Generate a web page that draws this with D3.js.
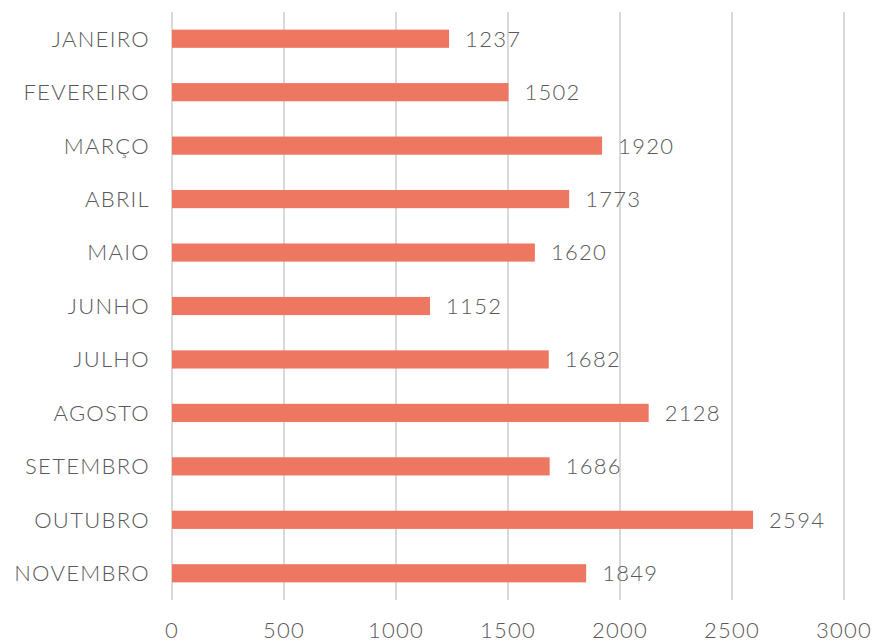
<!DOCTYPE html>
<html><head><meta charset="utf-8">
<script src="https://cdn.jsdelivr.net/npm/d3@7"></script>
<style>body{margin:0;background:#fff}svg{display:block}text{font-family:Lato,"Open Sans",sans-serif;font-weight:300;fill:#595959;letter-spacing:1.3px}</style>
</head><body><svg id="c" width="876" height="642"></svg>
<script>
const categories = ["JANEIRO","FEVEREIRO","MARÇO","ABRIL","MAIO","JUNHO","JULHO","AGOSTO","SETEMBRO","OUTUBRO","NOVEMBRO"];
const values = [1237,1502,1920,1773,1620,1152,1682,2128,1686,2594,1849];
const ticks = [0,500,1000,1500,2000,2500,3000];

const svg = d3.select("#c");
const x = d3.scaleLinear().domain([0,3000]).range([172,844]);
const y = d3.scaleBand().domain(categories).range([12,600]).paddingInner(0.66).paddingOuter(0.33);

svg.append("g").selectAll("line").data(ticks).join("line")
  .attr("x1",d=>x(d)).attr("x2",d=>x(d)).attr("y1",12).attr("y2",600)
  .attr("stroke","#d9d9d9").attr("stroke-width",2);

svg.append("g").selectAll("text").data(ticks).join("text")
  .attr("x",d=>x(d)).attr("y",638).attr("text-anchor","middle")
  .attr("font-size",22).text(d=>d);

svg.append("g").selectAll("rect").data(values).join("rect")
  .attr("x",x(0)).attr("y",(d,i)=>y(categories[i]))
  .attr("width",d=>x(d)-x(0)).attr("height",y.bandwidth())
  .attr("fill","#EE7762");

svg.append("g").selectAll("text").data(values).join("text")
  .attr("x",d=>x(d)+16).attr("y",(d,i)=>y(categories[i])+y.bandwidth()/2)
  .attr("dy","0.36em").attr("font-size",22).text(d=>d);

svg.append("g").selectAll("text").data(categories).join("text")
  .attr("x",150).attr("y",d=>y(d)+y.bandwidth()/2)
  .attr("dy","0.36em").attr("text-anchor","end").attr("font-size",22).text(d=>d);
</script></body></html>
